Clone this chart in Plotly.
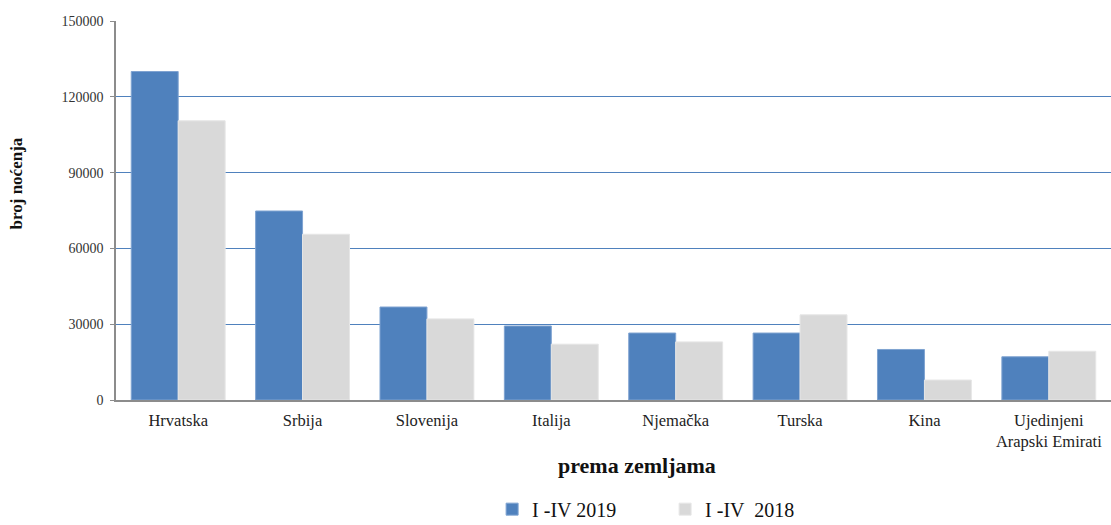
import plotly.graph_objects as go

categories = ["Hrvatska", "Srbija", "Slovenija", "Italija", "Njemačka", "Turska", "Kina",
              "Ujedinjeni<br>Arapski Emirati"]
values_2019 = [130000, 74800, 36800, 29300, 26500, 26500, 20000, 17100]
values_2018 = [110500, 65600, 32100, 22100, 23000, 33700, 7900, 19300]
series_names = ["I -IV 2019", "I -IV  2018"]
y_ticks = [0, 30000, 60000, 90000, 120000, 150000]

FONT = "Liberation Serif"

fig = go.Figure()
fig.add_trace(go.Bar(x=categories, y=values_2019, name=series_names[0],
                     marker=dict(color="#4F81BD", line=dict(color="#7FA3D1", width=1))))
fig.add_trace(go.Bar(x=categories, y=values_2018, name=series_names[1],
                     marker=dict(color="#D9D9D9", line=dict(color="#E6E6E6", width=1))))

fig.update_layout(
    width=1111, height=525,
    margin=dict(l=116, r=0, t=21, b=125, autoexpand=False),
    plot_bgcolor="white", paper_bgcolor="white",
    barmode="group", bargap=0.245, bargroupgap=0,
    font=dict(family=FONT, color="#222222"),
    legend=dict(orientation="h", x=0.378, xanchor="left", y=-0.288, yanchor="middle",
                font=dict(size=20, family=FONT, color="#111111"),
                entrywidth=128, entrywidthmode="pixels", itemwidth=30,
                traceorder="normal"),
    xaxis=dict(showline=True, linecolor="#8C8C8C", linewidth=1.5, automargin=False,
               ticks="", ticklabelstandoff=4,
               tickfont=dict(size=16.5, family=FONT, color="#222222"),
               showgrid=False),
    yaxis=dict(range=[0, 150000], tickvals=y_ticks, ticktext=[str(v) for v in y_ticks],
               automargin=False,
               showline=True, linecolor="#8C8C8C", linewidth=1.5,
               ticks="outside", ticklen=4, tickcolor="#8C8C8C", ticklabelstandoff=4,
               showgrid=True, gridcolor="#4F81BD", gridwidth=1,
               tickfont=dict(size=14, family=FONT, color="#333333"),
               zeroline=False),
    annotations=[
        dict(text="<b>prema zemljama</b>", xref="paper", yref="paper", x=0.524, y=-0.174,
             xanchor="center", yanchor="middle", showarrow=False,
             font=dict(size=22, family=FONT, color="#111111")),
        dict(text="<b>broj noćenja</b>", xref="paper", yref="paper", x=-0.1, y=0.57,
             xanchor="center", yanchor="middle", showarrow=False, textangle=-90,
             font=dict(size=17, family=FONT, color="#111111")),
    ],
)

fig.write_html("out.html", config={"displayModeBar": False},
               post_script="document.body.style.margin='0';document.body.style.overflow='hidden';")
